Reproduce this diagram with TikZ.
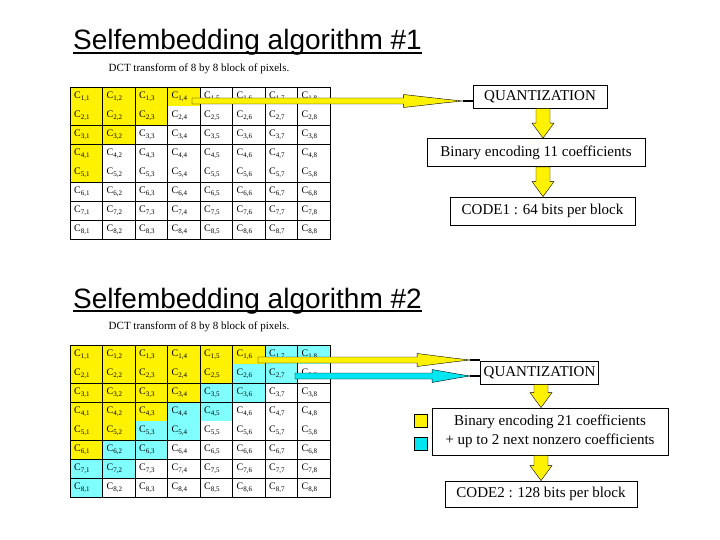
\documentclass[tikz,border=0pt]{standalone}
\usepackage{fontspec}
\setmainfont{Liberation Serif}
\newfontfamily\titlefont{Liberation Sans}
\usetikzlibrary{calc}
\definecolor{ccyan}{RGB}{128,255,255}
\definecolor{acyan}{RGB}{0,230,240}
\tikzset{
  box/.style={draw, line width=0.8pt, inner sep=0pt, font=\fontsize{15}{19}\selectfont},
  cell/.style={anchor=west, inner sep=0pt, font=\fontsize{10}{12}\selectfont},
  ttl/.style={anchor=base west, inner sep=0pt, font=\titlefont\fontsize{28}{32}\selectfont},
}

\begin{document}
\begin{tikzpicture}[x=1pt, y=-1pt]
    \useasboundingbox (0,0) rectangle (720,540);
    \fill[white] (0,0) rectangle (720,540);

    % タイトル
    \node[ttl] (t1) at (73,50) {Selfembedding algorithm \#1};
    \draw[line width=1.8pt] ($(t1.base west)+(0,3)$) -- ($(t1.base east)+(0,3)$);
    \node[ttl] (t2) at (73,308) {Selfembedding algorithm \#2};
    \draw[line width=1.8pt] ($(t2.base west)+(0,3)$) -- ($(t2.base east)+(0,3)$);

    % 8x8 の DCT 係数表（上と下）
    \pgfmathsetmacro{\w}{32.5}
    \pgfmathsetmacro{\h}{19}
    \foreach \yt/\k in {87/1,345/2} {
        \node[cell, anchor=center, font=\fontsize{11}{13}\selectfont] (d\k) at (199,\yt-18) {DCT transform of 8 by 8 block of pixels.};
        \foreach \i in {1,...,8} {
            \foreach \j in {1,...,8} {
                \pgfmathtruncatemacro{\sm}{\i+\j}
                \pgfmathtruncatemacro{\c}{ifthenelse(\k==1, or(\sm<6, and(\i==5,\j==1)), ifthenelse(\sm<8, 1, ifthenelse(\sm<10, 2, 0)))}
                \pgfmathsetmacro{\xl}{70+\w*(\j-1)}
                \pgfmathsetmacro{\yl}{\yt+\h*(\i-1)}
                \ifcase\c \or
                    \fill[yellow] (\xl,\yl) rectangle ++(\w,\h);
                \or
                    \fill[ccyan] (\xl,\yl) rectangle ++(\w,\h);
                \fi
                \node[cell] (c\k-\i-\j) at (\xl+4,\yl+\h/2) {C\textsubscript{\i,\j}};
            }
        }
        % 罫線
        \draw[line width=0.8pt] (70,\yt) rectangle (330,\yt+152);
        \foreach \j in {1,...,7} \draw[line width=0.8pt] (70+\w*\j,\yt) -- ++(0,152);
        \foreach \r in {2,3,5,6,7} \draw[line width=0.8pt] (70,\yt+\h*\r) -- ++(260,0);
    }

    % 右側の処理ブロック
    \node[box, minimum width=134pt, minimum height=23pt] (q1) at (540,96.5) {QUANTIZATION};
    \node[box, minimum width=218pt, minimum height=28pt] (b1) at (536,152.5) {Binary encoding 11 coefficients};
    \node[box, minimum width=185pt, minimum height=28pt] (e1) at (542.5,211) {CODE1 : 64 bits per block};
    \node[box, minimum width=118pt, minimum height=23pt] (q2) at (539.5,372.5) {QUANTIZATION};
    \node[box, minimum width=236pt, minimum height=47pt, align=center] (b2) at (550,431.5) {Binary encoding 21 coefficients\\+ up to 2 next nonzero coefficients};
    \node[box, minimum width=192pt, minimum height=26pt] (e2) at (541,494) {CODE2 : 128 bits per block};

    % 凡例
    \node[draw, line width=0.8pt, fill=yellow, minimum size=13pt, inner sep=0pt] (ly) at (420.5,421) {};
    \node[draw, line width=0.8pt, fill=acyan, minimum size=13pt, inner sep=0pt] (lc) at (420.5,443.5) {};

    % 下向きの矢印
    \coordinate (v1) at (543,0);
    \coordinate (v2) at (541,0);
    \foreach \a/\b/\v in {q1/b1/v1, b1/e1/v1, q2/b2/v2, b2/e2/v2} {
        \fill[yellow, draw=black, thin] ($(\a.south -| \v)+(-7,0)$) -- ($(\b.north -| \v)+(-7,-15)$)
            -- ($(\b.north -| \v)+(-11,-15)$) -- (\b.north -| \v) -- ($(\b.north -| \v)+(11,-15)$)
            -- ($(\b.north -| \v)+(7,-15)$) -- ($(\a.south -| \v)+(7,0)$) -- cycle;
    }

    % 係数表から QUANTIZATION への矢印
    \coordinate (s1) at (192,101);
    \coordinate (s2) at (258,360);
    \coordinate (s3) at (295,376);
    \foreach \st/\qn/\cl/\hl in {s1/q1/yellow/59, s2/q2/yellow/53, s3/q2/acyan/38} {
        \coordinate (tp) at ($(\st -| \qn.west)+(-10,0)$);
        \draw[line width=1.2pt] (tp) -- (\st -| \qn.west);
        \fill[\cl, draw=black, thin] ($(\st)+(0,-3)$) -- ($(tp)+(-\hl,-3)$) -- ($(tp)+(-\hl,-6.5)$)
            -- ($(tp)+(-0.3*\hl,-1.8)$) -- (tp) -- ($(tp)+(-0.3*\hl,1.8)$) -- ($(tp)+(-\hl,6.5)$)
            -- ($(tp)+(-\hl,3)$) -- ($(\st)+(0,3)$) -- cycle;
    }
    %
\end{tikzpicture}
\end{document}
